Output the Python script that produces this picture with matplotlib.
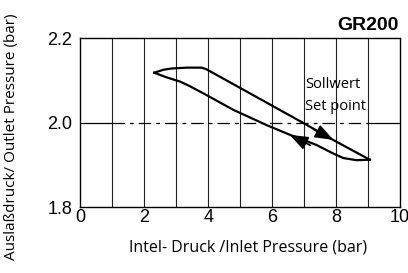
#!/usr/bin/env python3

import matplotlib
matplotlib.use('Agg')
import matplotlib.pyplot as plt
import numpy as np

# upper branch (rising inlet pressure)
up_x = [2.31, 2.6, 2.86, 3.33, 3.80, 3.95, 6.98, 7.91, 9.06]
up_y = [2.119, 2.126, 2.129, 2.131, 2.131, 2.127, 2.000, 1.960, 1.913]
# lower branch (falling inlet pressure)
lo_x = [2.31, 2.7, 3.12, 3.43, 3.95, 4.79, 5.83, 6.56, 7.39, 7.91, 8.23, 8.64, 9.06]
lo_y = [2.119, 2.108, 2.098, 2.087, 2.066, 2.031, 1.995, 1.972, 1.948, 1.928, 1.917, 1.912, 1.913]

set_point = 2.0
xticks = [0, 2, 4, 6, 8, 10]
yticks = [1.8, 2.0, 2.2]

fig = plt.figure(figsize=(4.08, 2.73), dpi=100)
ax = fig.add_axes([0.197, 0.240, 0.783, 0.619])

for x in range(1, 10):
    ax.axvline(x, color='#222222', lw=0.8, zorder=1)

ax.plot([0, 1], [set_point, set_point], color='black', lw=0.9, zorder=1)
ax.plot([1, 9], [set_point, set_point], color='black', lw=0.9, zorder=1,
        dashes=(10, 4, 3, 4))
ax.plot([9, 10], [set_point, set_point], color='black', lw=0.9, zorder=1)

ax.plot(up_x, up_y, color='black', lw=1.6, zorder=3, solid_joinstyle='round')
ax.plot(lo_x, lo_y, color='black', lw=1.6, zorder=3, solid_joinstyle='round')

# direction arrows
arrow = dict(arrowstyle='-|>,head_length=0.8,head_width=0.3', color='black',
             lw=1.2, shrinkA=0, shrinkB=0, mutation_scale=14)
ax.annotate('', xy=(7.92, 1.960), xytext=(7.3, 1.985), arrowprops=arrow, zorder=4)
ax.annotate('', xy=(6.55, 1.972), xytext=(7.2, 1.947), arrowprops=arrow, zorder=4)

ax.set_xlim(0, 10)
ax.set_ylim(1.8, 2.2)
ax.set_xticks(xticks)
ax.set_yticks(yticks)
ax.set_xticklabels([str(t) for t in xticks], family='Liberation Sans', fontsize=13)
ax.set_yticklabels(['%.1f' % t for t in yticks], family='Liberation Sans', fontsize=13)
ax.tick_params(axis='x', length=0, pad=1)
ax.tick_params(axis='y', length=0, pad=6)
for s in ax.spines.values():
    s.set_linewidth(1.0)
    s.set_color('black')

ax.text(7.03, 2.092, 'Sollwert', family='Open Sans', fontsize=10.5, va='center')
ax.text(7.03, 2.040, 'Set point', family='Open Sans', fontsize=10.5, va='center')

fig.text(0.977, 0.905, 'GR200', family='Liberation Sans', fontweight='bold',
         fontsize=14, ha='right', va='center')
fig.text(0.607, 0.095, 'Intel- Druck /Inlet Pressure (bar)', family='Open Sans',
         fontsize=11.5, ha='center', va='center')
fig.text(0.027, 0.5, 'Auslaßdruck/ Outlet Pressure (bar)', family='Open Sans',
         fontsize=11, ha='center', va='center', rotation=90)

fig.savefig('out.png', dpi=100)
